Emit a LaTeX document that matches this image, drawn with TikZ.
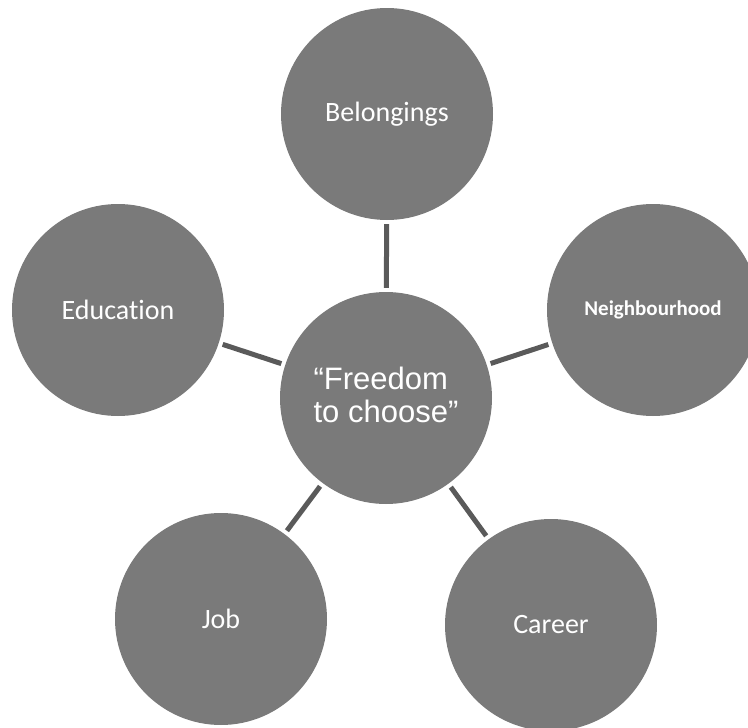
\documentclass[tikz,border=0pt]{standalone}
\usepackage{fontspec}
\setmainfont[Ligatures=NoCommon]{Carlito}
\newfontfamily\arialfont{Liberation Sans}
\definecolor{bubble}{HTML}{7A7A7A}
\definecolor{linkc}{HTML}{5A5A5A}
\begin{document}
\begin{tikzpicture}[x=1pt,y=-1pt,
  bubble/.style={circle,fill=bubble,draw=none,minimum size=212pt,inner sep=0pt,text=white,font=\fontsize{28}{30}\selectfont},
  link/.style={draw=linkc,line width=5pt,shorten <=4pt,shorten >=4pt}]
\useasboundingbox (0,0) rectangle (748,728);
\node[bubble] (c) at (386,398) {};
\node[text=white,align=left,font=\arialfont\fontsize{31}{33}\selectfont] (ct) at (386,395) {“Freedom\\to choose”};
\node[bubble] (bel) at (387,114) {Belongings};
\node[bubble] (nei) at (653,310) {\fontsize{21}{24}\selectfont\bfseries Neighbourhood};
\node[bubble] (edu) at (118,310) {Education};
\node[bubble] (job) at (221,619) {Job};
\node[bubble] (car) at (551,625) {Career};
\draw[link] (c) -- (bel);
\draw[link] (c) -- (nei);
\draw[link] (c) -- (edu);
\draw[link] (c) -- (job);
\draw[link] (c) -- (car);
\end{tikzpicture}
\end{document}
